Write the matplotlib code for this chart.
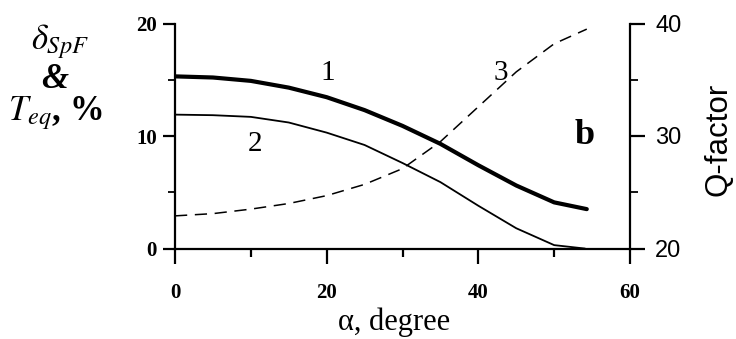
import numpy as np
import matplotlib
matplotlib.use('Agg')
import matplotlib.pyplot as plt
from matplotlib.ticker import MultipleLocator

plt.rcParams['mathtext.fontset'] = 'stix'

# curves
alpha = [0, 5, 10, 15, 20, 25, 30, 35, 40, 45, 50, 54.3]
spf = [15.3, 15.2, 14.9, 14.3, 13.45, 12.3, 10.9, 9.3, 7.4, 5.6, 4.1, 3.5]
alpha2 = [0, 5, 10, 15, 20, 25, 30, 35, 40, 45, 50, 54]
teq = [11.9, 11.85, 11.7, 11.2, 10.3, 9.2, 7.6, 5.9, 3.8, 1.8, 0.3, 0.0]
qfac = [22.9, 23.1, 23.5, 24.0, 24.7, 25.7, 27.1, 29.5, 32.6, 35.7, 38.2, 39.5]

xticks = [0, 20, 40, 60]
lticks = [0, 10, 20]
rticks = [20, 30, 40]

serif = 'Liberation Serif'
sans = 'Liberation Sans'

fig = plt.figure(figsize=(7.36, 3.39), dpi=100)
ax = fig.add_axes([175/736, 1-248.5/339, 455/736, 225/339])
ax2 = ax.twinx()

ax.plot(alpha, spf, color='black', lw=3.0, solid_capstyle='round')
ax.plot(alpha2, teq, color='black', lw=1.3)
ax2.plot(alpha, qfac, color='black', lw=1.1, dashes=(8, 5))

ax.set_xlim(0, 60)
ax.set_ylim(0, 20)
ax2.set_ylim(20, 40)

ax.set_xticks(xticks, labels=[str(v) for v in xticks])
ax.xaxis.set_minor_locator(MultipleLocator(10))
ax.set_yticks(lticks, labels=[str(v) for v in lticks])
ax.yaxis.set_minor_locator(MultipleLocator(5))
ax2.set_yticks(rticks, labels=[str(v) for v in rticks])
ax2.yaxis.set_minor_locator(MultipleLocator(5))

for a in (ax, ax2):
    a.spines['top'].set_visible(False)
    for s in a.spines.values():
        s.set_linewidth(1.6)
ax.spines['right'].set_visible(False)
ax2.spines['left'].set_visible(False)
ax2.spines['bottom'].set_visible(False)

ax.tick_params(axis='x', which='major', direction='out', length=11, width=1.6, pad=14,
               labelsize=15, labelfontfamily=serif)
ax.tick_params(axis='x', which='minor', direction='out', length=6, width=1.6)
ax.tick_params(axis='y', which='major', direction='out', length=9, width=1.6, pad=4,
               labelsize=15, labelfontfamily=serif)
ax.tick_params(axis='y', which='minor', direction='out', length=5, width=1.3)
ax2.tick_params(axis='y', which='major', direction='out', length=11, width=1.6, pad=7,
                labelsize=17, labelfontfamily=sans)
ax2.tick_params(axis='y', which='minor', direction='out', length=6, width=1.3)

fig.canvas.draw()
for lab in ax.get_xticklabels() + ax.get_yticklabels():
    lab.set_fontweight('bold')

# curve labels
ax.text(20.2, 15.6, '1', fontsize=21, family=serif, ha='center', va='center')
ax.text(10.5, 9.3, '2', fontsize=21, family=serif, ha='center', va='center')
ax.text(42.9, 15.6, '3', fontsize=21, family=serif, ha='center', va='center')
ax.text(54, 10, 'b', fontsize=26, family=serif, fontweight='bold', ha='center', va='center')

# axis titles
fig.text(60/736, 1-42/339, r'$\delta_{SpF}$', fontsize=25, ha='center', va='center')
fig.text(55/736, 1-79/339, '&', fontsize=25, family=serif, style='italic',
         fontweight='bold', ha='center', va='center')
fig.text(55/736, 1-113/339, r'$T_{eq}$, %', fontsize=25, family=serif,
         fontweight='bold', ha='center', va='center')
fig.text(394/736, 1-322/339, 'α, degree', fontsize=22, family=serif, ha='center', va='center')
fig.text(718/736, 1-139/339, 'Q-factor', fontsize=22.5, family=sans, rotation=90, ha='center', va='center')

fig.savefig('out.png', dpi=100)
